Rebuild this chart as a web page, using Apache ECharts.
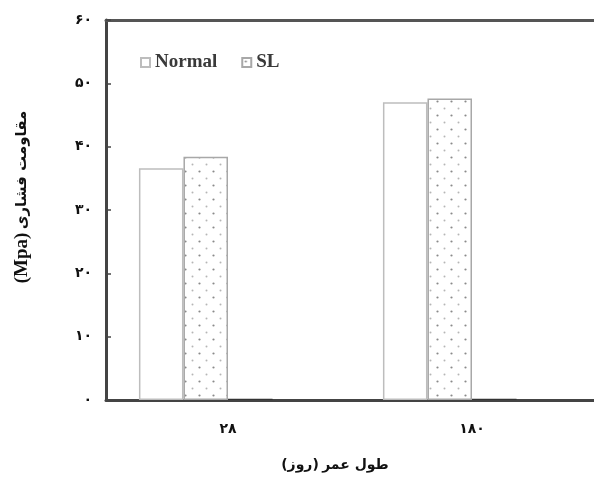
<!DOCTYPE html>
<html>
<head>
<meta charset="utf-8">
<script src="https://cdn.jsdelivr.net/npm/echarts@6/dist/echarts.min.js"></script>
<style>
  html, body { margin: 0; padding: 0; background: #fff; }
  #chart { width: 594px; height: 477px; }
</style>
</head>
<body>
<div id="chart"></div>
<script>
// داده‌ها
const categories = ['۲۸', '۱۸۰'];
const normalValues = [36.6, 47.0];
const slValues = [38.4, 47.6];
const thirdValues = [0.2, 0.2];
const emptyValues = [0, 0];
const yTickLabels = ['۰', '۱۰', '۲۰', '۳۰', '۴۰', '۵۰', '۶۰'];

const persianFont = '"DejaVu Sans", sans-serif';
const serifFont = '"Liberation Serif", "DejaVu Serif", serif';

// dotted fill for SL bars
function dotPattern() {
  const c = document.createElement('canvas');
  c.width = 14;
  c.height = 14;
  const ctx = c.getContext('2d');
  ctx.fillStyle = '#fff';
  ctx.fillRect(0, 0, 14, 14);
  ctx.fillStyle = '#8a8a8a';
  ctx.beginPath(); ctx.arc(3.5, 3.5, 1.1, 0, Math.PI * 2); ctx.fill();
  ctx.fillStyle = '#b5b5b5';
  ctx.beginPath(); ctx.arc(10.5, 10.5, 1.0, 0, Math.PI * 2); ctx.fill();
  return c;
}

const chart = echarts.init(document.getElementById('chart'));

const option = {
  backgroundColor: '#fff',
  animation: false,
  grid: {
    left: 106,
    top: 20,
    width: 494,
    bottom: 71
  },
  legend: {
    data: ['Normal', 'SL'],
    left: 135,
    top: 48,
    itemWidth: 9,
    itemHeight: 9,
    itemGap: 24,
    icon: 'rect',
    textStyle: {
      fontFamily: serifFont,
      fontWeight: 'bold',
      fontSize: 19,
      color: '#3a3a3a'
    }
  },
  xAxis: [
    {
      type: 'category',
      data: categories,
      axisLine: { lineStyle: { color: '#444', width: 3 } },
      axisTick: { show: false },
      axisLabel: {
        margin: 22,
        fontFamily: persianFont,
        fontWeight: 'bold',
        fontSize: 14,
        color: '#111'
      },
      name: '{a|(روز)} {a|طول عمر}',
      nameLocation: 'middle',
      nameGap: 58,
      nameTextStyle: {
        padding: [0, 30, 0, 0],
        rich: {
          a: { fontFamily: persianFont, fontWeight: 'bold', fontSize: 14, color: '#111' }
        }
      }
    },
    {
      // خط بالای قاب
      type: 'category',
      position: 'top',
      data: categories,
      axisLine: { show: true, lineStyle: { color: '#555', width: 3 } },
      axisTick: { show: false },
      axisLabel: { show: false }
    }
  ],
  yAxis: {
    type: 'value',
    min: 0,
    max: 60,
    interval: 10,
    splitLine: { show: false },
    axisLine: { show: true, lineStyle: { color: '#444', width: 3 } },
    axisTick: { show: true, inside: true, length: 5, lineStyle: { color: '#444', width: 1.5 } },
    axisLabel: {
      margin: 14,
      fontFamily: persianFont,
      fontWeight: 'bold',
      fontSize: 14,
      color: '#111',
      formatter: v => yTickLabels[Math.round(v / 10)]
    },
    name: '{m|(Mpa)} {a|مقاومت فشاری}',
    nameLocation: 'middle',
    nameGap: 74,
    nameRotate: 90,
    nameTextStyle: {
      padding: [0, 0, 0, 26],
      rich: {
        m: { fontFamily: serifFont, fontWeight: 'bold', fontSize: 19, color: '#111' },
        a: { fontFamily: persianFont, fontWeight: 'bold', fontSize: 15, color: '#111' }
      }
    }
  },
  series: [
    {
      name: 'Normal',
      type: 'bar',
      data: normalValues,
      barGap: '0%',
      barCategoryGap: '27%',
      itemStyle: { color: '#fff', borderColor: '#bdbdbd', borderWidth: 1.5 }
    },
    {
      name: 'SL',
      type: 'bar',
      data: slValues,
      itemStyle: {
        color: { image: dotPattern(), repeat: 'repeat' },
        borderColor: '#a8a8a8',
        borderWidth: 1.5
      }
    },
    {
      name: 'third',
      type: 'bar',
      data: thirdValues,
      itemStyle: { color: '#333' }
    },
    {
      name: 'empty',
      type: 'bar',
      data: emptyValues,
      itemStyle: { color: 'transparent' }
    }
  ]
};

chart.setOption(option);
</script>
</body>
</html>
